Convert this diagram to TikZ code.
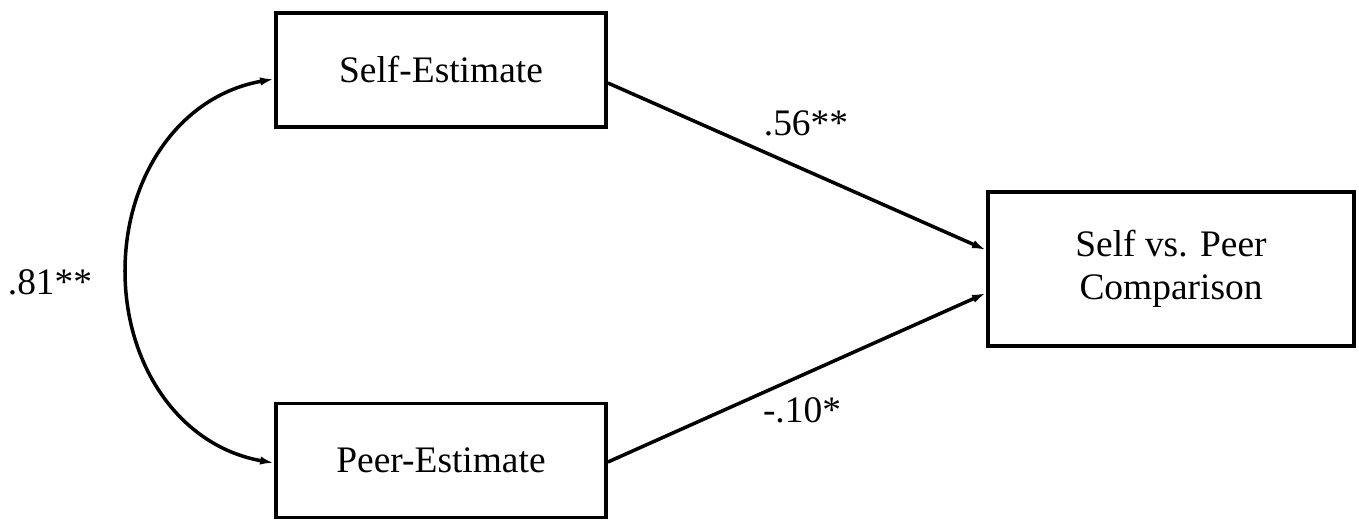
\documentclass[tikz,border=0pt]{standalone}
\usepackage{fontspec}
\setmainfont{Liberation Serif}
\usetikzlibrary{arrows.meta,calc}
\begin{document}
\begin{tikzpicture}[x=0.02cm,y=-0.02cm,
  box/.style={draw,line width=2.2pt,minimum width=6.6cm,minimum height=2.28cm,align=center,inner sep=0pt,font=\fontsize{21.3}{24.4}\selectfont},
  conn/.style={line width=2pt,-{Latex[length=8pt,width=4.8pt]}},
  lab/.style={inner sep=0pt,font=\fontsize{21.3}{24}\selectfont}]
\useasboundingbox (0,0) rectangle (1359,521);
\node[box] (self) at (441,70) {Self-Estimate};
\node[box] (peer) at (441,460.5) {Peer-Estimate};
\node[box,minimum width=7.32cm,minimum height=3.08cm] (comp) at (1171,269) {Self vs. Peer\\Comparison};
\coordinate (s1) at ($(self.west)+(0,9)$);
\coordinate (p1) at ($(peer.west)+(0,2.5)$);
\coordinate (mid) at (125,271);
\coordinate (s2) at ($(self.east)+(0,13)$);
\coordinate (p2) at ($(peer.east)+(0,1.5)$);
\coordinate (c1) at ($(comp.west)+(0,-19)$);
\coordinate (c2) at ($(comp.west)+(0,24)$);
\draw[conn] (mid) to[out=90,in=190] (s1);
\draw[conn] (mid) to[out=270,in=170] (p1);
\draw[conn] (s2) -- (c1);
\draw[conn] (p2) -- (c2);
\node[lab] (l56) at (806,123) {.56**};
\node[lab] (l10) at (802,410) {-.10*};
\node[lab] (l81) at (50,282) {.81**};
\end{tikzpicture}
\end{document}
